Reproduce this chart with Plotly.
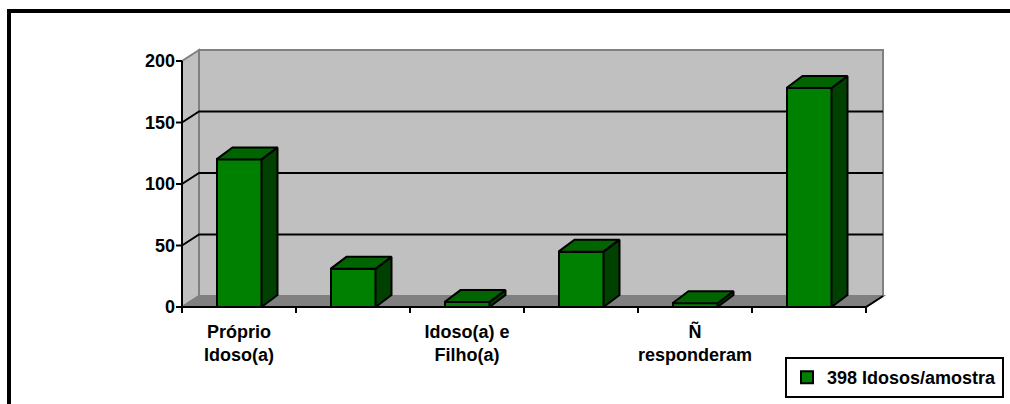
import plotly.graph_objects as go

# ---------------- data ----------------
category_positions = [0, 1, 2, 3, 4, 5]
tick_positions = [0, 2, 4]
tick_labels = ["Próprio<br>Idoso(a)", "Idoso(a) e<br>Filho(a)", "Ñ<br>responderam"]
values = [120, 31, 4, 45, 3, 178]
y_ticks = [0, 50, 100, 150, 200]
series_name = "398 Idosos/amostra"

# ---------------- geometry (pixels) ----------------
W, H = 1010, 404
AX_X = 182          # pixel x of the front value axis
CAT_PX = 114        # pixel width of one category
ZERO_Y = 307        # pixel y of value 0 on the front plane
UNIT_PX = 1.23      # pixels per value unit
PLOT_L, PLOT_R, PLOT_T, PLOT_B = 176, 886, 48, 313

x_range = [-0.5 - (AX_X - PLOT_L) / CAT_PX, -0.5 + (PLOT_R - AX_X) / CAT_PX]
y_range = [-(PLOT_B - ZERO_Y) / UNIT_PX, (ZERO_Y - PLOT_T) / UNIT_PX]

WALL_DX, WALL_DY = 17 / CAT_PX, 11 / UNIT_PX
BAR_DX, BAR_DY = 16 / CAT_PX, 12 / UNIT_PX
BAR_W = 45 / CAT_PX
TICK_X = 6 / CAT_PX
TICK_Y = 6 / UNIT_PX

xL = category_positions[0] - 0.5
xR = category_positions[-1] + 0.5
ymax = y_ticks[-1]

FRONT = "#008000"
SIDE = "#004000"
TOP = "#006400"
WALL = "#c0c0c0"
FLOOR = "#808080"

shapes = []

def path(pts):
    return "M " + " L ".join(f"{x},{y}" for x, y in pts) + " Z"

def openpath(pts):
    return "M " + " L ".join(f"{x},{y}" for x, y in pts)

# back wall
shapes.append(dict(type="rect", xref="x", yref="y", layer="below",
                   x0=xL + WALL_DX, x1=xR + WALL_DX, y0=WALL_DY, y1=ymax + WALL_DY,
                   fillcolor=WALL, line=dict(color=FLOOR, width=2)))
# left wall
shapes.append(dict(type="path", xref="x", yref="y", layer="below",
                   path=path([(xL, 0), (xL, ymax), (xL + WALL_DX, ymax + WALL_DY), (xL + WALL_DX, WALL_DY)]),
                   fillcolor=WALL, line=dict(color=FLOOR, width=2)))
# floor
shapes.append(dict(type="path", xref="x", yref="y", layer="below",
                   path=path([(xL, 0), (xL + WALL_DX, WALL_DY), (xR + WALL_DX, WALL_DY), (xR, 0)]),
                   fillcolor=FLOOR, line=dict(color=FLOOR, width=2)))
# gridlines
for v in y_ticks[1:-1]:
    shapes.append(dict(type="path", xref="x", yref="y", layer="below",
                       path=openpath([(xL, v), (xL + WALL_DX, v + WALL_DY), (xR + WALL_DX, v + WALL_DY)]),
                       line=dict(color="black", width=2)))

# value axis line + ticks
shapes.append(dict(type="line", xref="x", yref="y", layer="above",
                   x0=xL, x1=xL, y0=0, y1=ymax, line=dict(color="black", width=2)))
for v in y_ticks:
    shapes.append(dict(type="line", xref="x", yref="y", layer="above",
                       x0=xL - TICK_X, x1=xL, y0=v, y1=v, line=dict(color="black", width=2)))
# category axis line + ticks
shapes.append(dict(type="path", xref="x", yref="y", layer="above",
                   path=openpath([(xL, 0), (xR, 0), (xR + WALL_DX, WALL_DY)]),
                   line=dict(color="black", width=2)))
for k in range(len(category_positions) + 1):
    xb = xL + k
    shapes.append(dict(type="line", xref="x", yref="y", layer="above",
                       x0=xb, x1=xb, y0=0, y1=-TICK_Y, line=dict(color="black", width=2)))

# outer frame (left and top border)
def px2paper_x(px):
    return (px - PLOT_L) / (PLOT_R - PLOT_L)

def px2paper_y(py):
    return (PLOT_B - py) / (PLOT_B - PLOT_T)

shapes.append(dict(type="line", xref="paper", yref="paper", layer="above",
                   x0=px2paper_x(9), x1=px2paper_x(9), y0=px2paper_y(9), y1=px2paper_y(420),
                   line=dict(color="black", width=4)))
shapes.append(dict(type="line", xref="paper", yref="paper", layer="above",
                   x0=px2paper_x(7), x1=px2paper_x(1030), y0=px2paper_y(11), y1=px2paper_y(11),
                   line=dict(color="black", width=4)))

fig = go.Figure()

# front faces of bars
fig.add_trace(go.Bar(x=category_positions, y=values, width=BAR_W, name=series_name,
                     marker=dict(color=FRONT, line=dict(color="black", width=2)),
                     showlegend=True))

# side and top faces
for xc, v in zip(category_positions, values):
    x0, x1 = xc - BAR_W / 2, xc + BAR_W / 2
    side = [(x1, 0), (x1, v), (x1 + BAR_DX, v + BAR_DY), (x1 + BAR_DX, BAR_DY), (x1, 0)]
    top = [(x0, v), (x0 + BAR_DX, v + BAR_DY), (x1 + BAR_DX, v + BAR_DY), (x1, v), (x0, v)]
    for pts, col in ((side, SIDE), (top, TOP)):
        fig.add_trace(go.Scatter(x=[p[0] for p in pts], y=[p[1] for p in pts],
                                 mode="lines", fill="toself", fillcolor=col,
                                 line=dict(color="black", width=2),
                                 showlegend=False, hoverinfo="skip"))

fig.update_layout(
    width=W, height=H,
    margin=dict(l=PLOT_L, r=W - PLOT_R, t=PLOT_T, b=H - PLOT_B, autoexpand=False),
    paper_bgcolor="white", plot_bgcolor="white",
    font=dict(family="Liberation Sans, Arial, sans-serif", size=18, color="black", weight="bold"),
    shapes=shapes,
    showlegend=True,
    legend=dict(x=px2paper_x(1004), xanchor="right", y=px2paper_y(357), yanchor="top",
                bordercolor="black", borderwidth=2, bgcolor="white",
                font=dict(size=18, weight="bold")),
    xaxis=dict(range=x_range, tickmode="array", tickvals=tick_positions, ticktext=tick_labels,
               showgrid=False, zeroline=False, showline=False, ticks="", fixedrange=True,
               ticklabelstandoff=6),
    yaxis=dict(range=y_range, tickmode="array", tickvals=y_ticks, ticktext=[str(t) for t in y_ticks],
               showgrid=False, zeroline=False, showline=False, ticks="", fixedrange=True,
               ticklabelstandoff=0),
    bargap=0,
)

fig.write_html("out.html")
